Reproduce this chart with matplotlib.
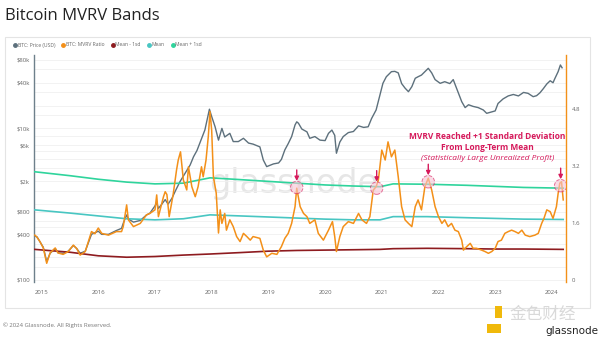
import matplotlib
matplotlib.use("Agg")
import matplotlib.pyplot as plt
from matplotlib.lines import Line2D
from matplotlib.patches import Rectangle
import numpy as np

# ---- data (fractional years) ----
price_t = [2014.88, 2014.92, 2014.97, 2015.03, 2015.09, 2015.15, 2015.24, 2015.29, 2015.38,
           2015.47, 2015.56, 2015.62, 2015.68, 2015.77, 2015.88, 2015.94, 2016.00, 2016.06,
           2016.18, 2016.32, 2016.41, 2016.44, 2016.50, 2016.53, 2016.62, 2016.74, 2016.85,
           2016.91, 2017.00, 2017.03, 2017.06, 2017.12, 2017.18, 2017.23, 2017.30, 2017.36,
           2017.44, 2017.53, 2017.62, 2017.68, 2017.74, 2017.79, 2017.88, 2017.96, 2018.00,
           2018.06, 2018.12, 2018.18, 2018.23, 2018.32, 2018.38, 2018.47, 2018.56, 2018.65,
           2018.73, 2018.85, 2018.91, 2018.97, 2019.09, 2019.18, 2019.23, 2019.29, 2019.35,
           2019.41, 2019.47, 2019.50, 2019.53, 2019.59, 2019.68, 2019.73, 2019.82, 2019.91,
           2020.00, 2020.06, 2020.12, 2020.17, 2020.20, 2020.26, 2020.32, 2020.41, 2020.50,
           2020.59, 2020.68, 2020.76, 2020.82, 2020.90, 2020.96, 2021.02, 2021.08, 2021.17,
           2021.23, 2021.29, 2021.35, 2021.41, 2021.47, 2021.53, 2021.59, 2021.64, 2021.70,
           2021.76, 2021.82, 2021.88, 2021.94, 2022.03, 2022.11, 2022.20, 2022.26, 2022.35,
           2022.41, 2022.47, 2022.53, 2022.61, 2022.70, 2022.79, 2022.85, 2022.94, 2023.00,
           2023.05, 2023.14, 2023.23, 2023.32, 2023.41, 2023.50, 2023.58, 2023.67, 2023.73,
           2023.79, 2023.85, 2023.91, 2023.97, 2024.02, 2024.05, 2024.11, 2024.15, 2024.18]
price = [380, 370, 320, 270, 175, 225, 260, 228, 225,
         240, 285, 260, 225, 240, 400, 420, 440, 400,
         400, 450, 480, 560, 720, 640, 580, 610, 720,
         760, 950, 1050, 880, 1000, 1150, 1000, 1200, 1500,
         1980, 2560, 3290, 4230, 5100, 6360, 9530, 17900, 14300,
         10500, 7000, 10000, 7700, 8600, 6700, 6700, 7400, 6400,
         6200, 5700, 3830, 3130, 3400, 3500, 3900, 5200, 6300,
         7800, 11100, 12200, 11700, 9800, 9000, 7400, 7800, 7000,
         6900, 8600, 9500, 8100, 4700, 6600, 7800, 8800, 9100,
         10800, 10300, 10500, 13500, 17500, 26200, 39300, 48000, 56000,
         56500, 54000, 39000, 34000, 30500, 35500, 45800, 48000, 50500,
         56000, 62000, 54000, 44000, 39300, 41300, 39000, 44000, 29500,
         22500, 18800, 20500, 19500, 18800, 17500, 15800, 16500, 17000,
         21300, 24500, 26800, 28000, 26800, 29800, 29000, 26200, 27000,
         29500, 33500, 38500, 42500, 40000, 45000, 56000, 68600, 63000]

mvrv_t = [2014.88, 2014.91, 2014.97, 2015.03, 2015.09, 2015.15, 2015.24, 2015.29, 2015.38,
          2015.47, 2015.56, 2015.62, 2015.68, 2015.77, 2015.88, 2015.94, 2016.00, 2016.06,
          2016.18, 2016.32, 2016.41, 2016.44, 2016.50, 2016.53, 2016.62, 2016.74, 2016.85,
          2016.91, 2017.00, 2017.03, 2017.06, 2017.12, 2017.15, 2017.18, 2017.21, 2017.25,
          2017.32, 2017.38, 2017.41, 2017.45, 2017.50, 2017.56, 2017.59, 2017.65, 2017.71,
          2017.76, 2017.82, 2017.85, 2017.90, 2017.94, 2017.97, 2018.00, 2018.03, 2018.08,
          2018.12, 2018.15, 2018.18, 2018.23, 2018.26, 2018.32, 2018.38, 2018.44, 2018.50,
          2018.56, 2018.62, 2018.68, 2018.73, 2018.85, 2018.91, 2018.97, 2019.06, 2019.15,
          2019.23, 2019.29, 2019.35, 2019.41, 2019.47, 2019.50, 2019.56, 2019.62, 2019.68,
          2019.73, 2019.82, 2019.88, 2019.97, 2020.06, 2020.13, 2020.17, 2020.20, 2020.26,
          2020.32, 2020.41, 2020.50, 2020.59, 2020.65, 2020.73, 2020.79, 2020.85, 2020.90,
          2020.94, 2021.00, 2021.06, 2021.11, 2021.17, 2021.23, 2021.29, 2021.35, 2021.41,
          2021.47, 2021.53, 2021.59, 2021.64, 2021.70, 2021.76, 2021.82, 2021.88, 2021.94,
          2022.00, 2022.06, 2022.11, 2022.17, 2022.23, 2022.29, 2022.35, 2022.41, 2022.44,
          2022.50, 2022.56, 2022.61, 2022.67, 2022.76, 2022.82, 2022.88, 2022.94, 2023.00,
          2023.05, 2023.11, 2023.17, 2023.23, 2023.29, 2023.35, 2023.41, 2023.47, 2023.53,
          2023.61, 2023.70, 2023.76, 2023.82, 2023.86, 2023.91, 2023.97, 2024.02, 2024.08,
          2024.11, 2024.14, 2024.17, 2024.20]
mvrv = [1.26, 1.22, 1.08, 0.90, 0.47, 0.76, 0.90, 0.76, 0.72,
        0.80, 0.98, 0.88, 0.70, 0.80, 1.36, 1.30, 1.46, 1.31,
        1.26, 1.36, 1.36, 1.50, 2.11, 1.69, 1.50, 1.59, 1.83,
        1.87, 1.97, 2.39, 1.78, 2.15, 2.34, 2.48, 2.40, 1.78,
        2.40, 3.09, 3.37, 3.60, 2.81, 2.53, 3.18, 2.62, 2.34,
        2.62, 3.18, 2.90, 3.37, 4.03, 4.73, 4.20, 2.90, 2.44,
        1.32, 1.97, 1.59, 1.87, 1.40, 1.69, 1.50, 1.22, 1.08,
        1.31, 1.22, 1.12, 1.22, 1.17, 0.84, 0.65, 0.75, 0.72,
        0.94, 1.17, 1.31, 1.59, 2.06, 2.58, 2.06, 1.87, 1.78,
        1.59, 1.69, 1.31, 1.12, 1.40, 1.64, 1.22, 0.80, 1.22,
        1.50, 1.64, 1.59, 1.87, 1.69, 1.59, 1.78, 2.53, 2.62,
        2.81, 3.65, 3.37, 3.88, 3.46, 3.65, 2.90, 2.06, 1.69,
        1.59, 1.50, 2.06, 2.25, 1.97, 2.62, 2.86, 2.53, 2.06,
        1.78, 1.59, 1.69, 1.50, 1.59, 1.40, 1.36, 1.12, 0.84,
        0.94, 1.03, 0.89, 0.89, 0.84, 0.80, 0.75, 0.80, 0.89,
        1.08, 1.12, 1.31, 1.36, 1.40, 1.36, 1.31, 1.40, 1.26,
        1.22, 1.26, 1.31, 1.59, 1.73, 1.97, 1.92, 1.73, 2.06,
        2.43, 2.72, 2.76, 2.25]

band_t = [2014.88, 2015.5, 2016.0, 2016.5, 2017.0, 2017.5, 2017.97, 2018.5, 2019.0,
          2019.5, 2020.0, 2020.5, 2020.97, 2021.2, 2021.8, 2022.5, 2023.0, 2023.5, 2024.20]
mean_plus = [3.04, 2.93, 2.83, 2.75, 2.70, 2.72, 2.87, 2.82, 2.77,
             2.72, 2.67, 2.64, 2.62, 2.70, 2.69, 2.66, 2.63, 2.60, 2.58]
mean_mid = [1.97, 1.88, 1.80, 1.72, 1.69, 1.72, 1.83, 1.80, 1.77,
            1.74, 1.71, 1.69, 1.69, 1.78, 1.78, 1.75, 1.73, 1.71, 1.70]
mean_minus = [0.86, 0.78, 0.68, 0.64, 0.66, 0.70, 0.73, 0.77, 0.81,
              0.83, 0.84, 0.85, 0.86, 0.88, 0.89, 0.88, 0.87, 0.87, 0.86]

peaks_t = [2019.50, 2020.91, 2021.82, 2024.155]
peaks_v = [2.60, 2.58, 2.76, 2.65]

years = list(range(2015, 2025))
left_ticks = [100, 400, 800, 2000, 6000, 10000, 40000, 80000]
left_labels = ['$100', '$400', '$800', '$2k', '$6k', '$10k', '$40k', '$80k']
right_ticks = [0, 1.6, 3.2, 4.8]

# ---- colours ----
c_price = '#5d707c'
c_mvrv = '#f39019'
c_minus = '#8e1b1f'
c_mean = '#48c6c2'
c_plus = '#2fd49c'
c_pink = '#d6195b'

plt.rcParams['font.family'] = ['Open Sans', 'DejaVu Sans']

fig = plt.figure(figsize=(6, 3.4), dpi=100)
fig.patch.set_facecolor('white')

# panel border
fig.add_artist(Rectangle((5/600, 1-308/340), 585/600, 271/340, transform=fig.transFigure,
                         fill=False, ec='#e4e4e4', lw=0.8))

ax = fig.add_axes([34/600, 1-282/340, 532/600, 227/340])
ax.set_yscale('log')
ax.set_ylim(94.1, 92900)
ax.set_xlim(2014.866, 2024.249)

ax.set_yticks(left_ticks)
ax.set_yticklabels(left_labels)
ax.set_yticks([150, 200, 300, 500, 600, 1000, 1500, 3000, 4000, 5000, 8000,
               15000, 20000, 30000, 60000], minor=True)
ax.yaxis.set_minor_formatter(plt.NullFormatter())
ax.grid(True, axis='y', which='both', color='#f0f0f0', lw=0.6)
ax.set_axisbelow(True)
ax.tick_params(axis='y', which='both', length=0, labelsize=4.3, labelcolor='#666666', pad=3)
ax.set_xticks(years)
ax.set_xticklabels([str(y) for y in years])
ax.tick_params(axis='x', length=0, labelsize=4.3, labelcolor='#666666', pad=6)
for s in ['top', 'right', 'bottom']:
    ax.spines[s].set_visible(False)
ax.spines['left'].set_color('#6e808b')
ax.spines['left'].set_linewidth(1.0)

ax.text(2019.45, 1900, 'glassnode', fontsize=24, color='#e6e6e6', ha='center', va='center',
        family='DejaVu Sans', zorder=0)

ax.plot(price_t, price, color=c_price, lw=1.0, zorder=2)

ax2 = ax.twinx()
ax2.set_ylim(-0.056, 6.32)
ax2.set_yticks(right_ticks)
ax2.set_yticklabels(['0', '1.6', '3.2', '4.8'])
ax2.tick_params(axis='y', length=0, labelsize=4.3, labelcolor='#666666', pad=4)
for s in ['top', 'left', 'bottom']:
    ax2.spines[s].set_visible(False)
ax2.spines['right'].set_color(c_mvrv)
ax2.spines['right'].set_linewidth(1.0)

ax2.plot(band_t, mean_minus, color=c_minus, lw=1.2)
ax2.plot(band_t, mean_mid, color=c_mean, lw=1.2)
ax2.plot(band_t, mean_plus, color=c_plus, lw=1.2)
ax2.plot(mvrv_t, mvrv, color=c_mvrv, lw=1.1)

# highlight circles + arrows
ax2.scatter(peaks_t, peaks_v, s=80, facecolor='#f7c4d4', alpha=0.6, edgecolor=c_pink,
            linewidths=0.7, linestyles='--', zorder=5)
for t, v in zip(peaks_t, peaks_v):
    ax2.annotate('', xy=(t, v + 0.18), xytext=(0, 8), textcoords='offset points',
                 arrowprops=dict(arrowstyle='-|>', color=c_pink, lw=1.0,
                                 mutation_scale=6, shrinkA=0, shrinkB=0), zorder=6)

tx = 2022.86
ax2.text(tx, 4.02, 'MVRV Reached +1 Standard Deviation', color=c_pink, fontsize=6,
         fontweight='bold', ha='center', va='center')
ax2.text(tx, 3.71, 'From Long-Term Mean', color=c_pink, fontsize=6,
         fontweight='bold', ha='center', va='center')
ax2.text(tx, 3.42, '(Statistically Large Unrealized Profit)', color=c_pink, fontsize=6,
         fontstyle='italic', ha='center', va='center')

# title, legend, footer
fig.text(5/600, 1-16/340, 'Bitcoin MVRV Bands', fontsize=12, color='#222222', va='center')

handles = [Line2D([], [], marker='o', ls='', color=c, markersize=2.5)
           for c in [c_price, c_mvrv, c_minus, c_mean, c_plus]]
labels = ['BTC: Price (USD)', 'BTC: MVRV Ratio', 'Mean - 1sd', 'Mean', 'Mean + 1sd']
fig.legend(handles, labels, loc='center left', bbox_to_anchor=(8/600, 1-45/340), ncol=5,
           frameon=False, fontsize=3.6, handletextpad=0.05, columnspacing=1.1,
           handlelength=1.0, labelcolor='#666666')

fig.text(3/600, 1-325/340, '© 2024 Glassnode. All Rights Reserved.', fontsize=4.3,
         color='#777777', va='center')

# bottom-right watermark
fig.add_artist(Rectangle((487/600, 1-333/340), 14/600, 9/340, transform=fig.transFigure,
                         color='#f0b90b', lw=0))
fig.add_artist(Rectangle((495/600, 1-318/340), 7/600, 12/340, transform=fig.transFigure,
                         color='#f0b90b', lw=0))
fig.text(510/600, 1-314/340, '金色财经', fontsize=12, color='#d9d9d9', va='center',
         family=['Noto Sans CJK SC', 'DejaVu Sans'])
fig.text(598/600, 1-331/340, 'glassnode', fontsize=7.5, color='#222222', va='center',
         ha='right', family='DejaVu Sans')

fig.savefig('out.png', dpi=100)
